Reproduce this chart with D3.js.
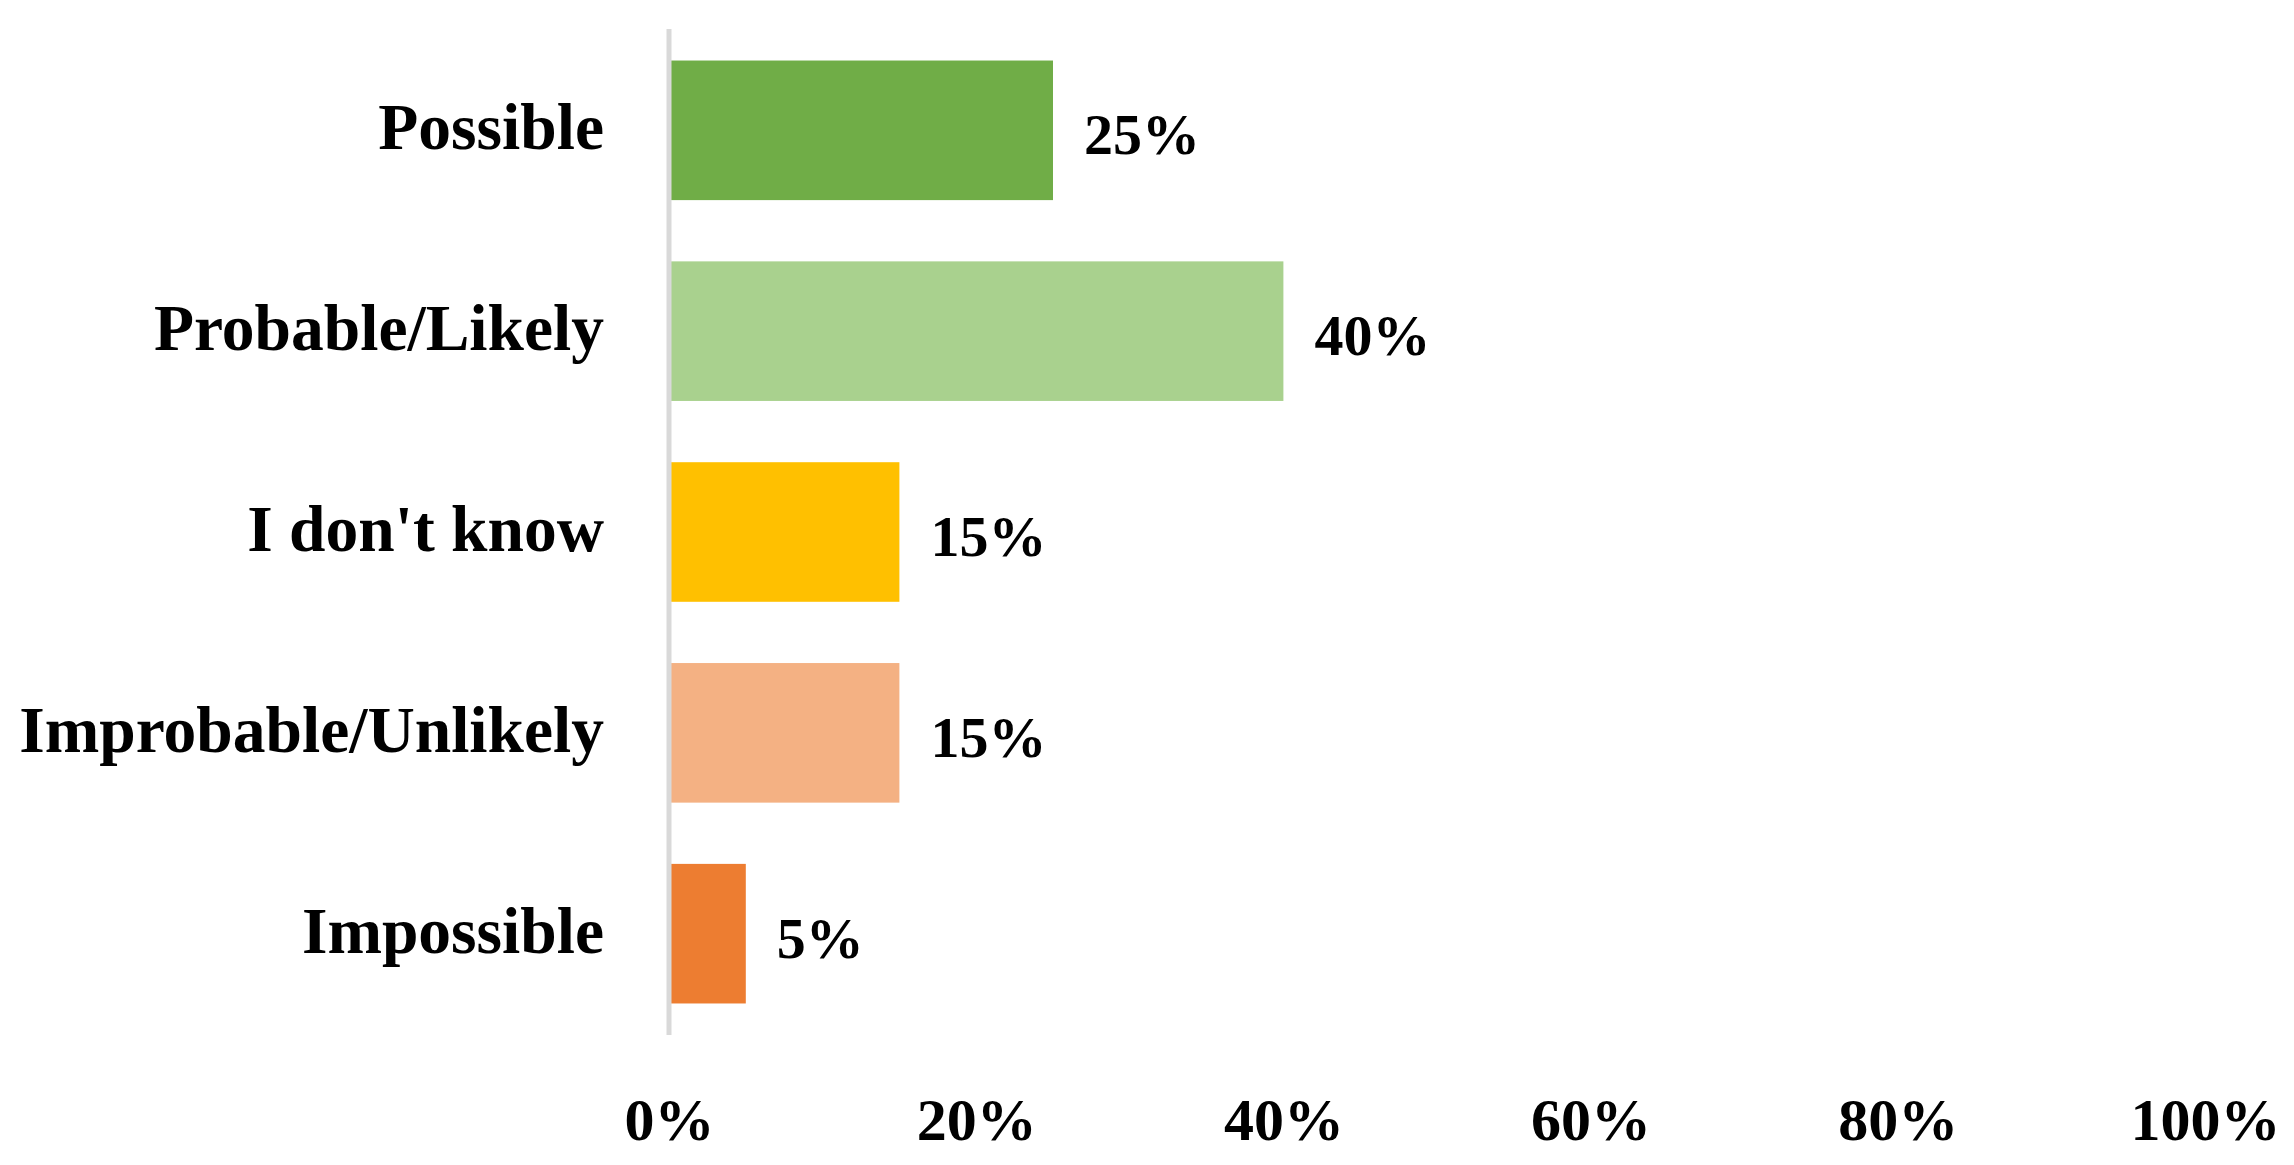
<!DOCTYPE html>
<html>
<head>
<meta charset="utf-8">
<script src="https://cdn.jsdelivr.net/npm/d3@7"></script>
<style>
  html, body { margin: 0; padding: 0; background: #fff; }
  svg { display: block; }
  text { font-family: "Liberation Serif", "Times New Roman", serif; font-weight: bold; fill: #000; }
</style>
</head>
<body>
<svg id="chart" width="2294" height="1165"></svg>
<script>
const categories = ["Possible", "Probable/Likely", "I don't know", "Improbable/Unlikely", "Impossible"];
const values = [25, 40, 15, 15, 5];
const colors = ["#70AD47", "#A9D18E", "#FFC000", "#F4B183", "#ED7D31"];
const tickValues = [0, 20, 40, 60, 80, 100];

const svg = d3.select("#chart");

const x = d3.scaleLinear().domain([0, 100]).range([669, 2205]);
const y = d3.scaleBand().domain(categories).range([30, 1034]).paddingInner(0.305).paddingOuter(0.152);

// bars
svg.append("g").selectAll("rect")
  .data(categories)
  .join("rect")
  .attr("x", x(0))
  .attr("y", d => y(d))
  .attr("width", (d, i) => x(values[i]) - x(0))
  .attr("height", y.bandwidth())
  .attr("fill", (d, i) => colors[i]);

// vertical axis line
svg.append("line")
  .attr("x1", x(0)).attr("x2", x(0))
  .attr("y1", 29).attr("y2", 1035)
  .attr("stroke", "#d9d9d9")
  .attr("stroke-width", 5);

// category labels
svg.append("g").selectAll("text")
  .data(categories)
  .join("text")
  .attr("x", 604)
  .attr("y", d => y(d) + y.bandwidth() / 2 + 19)
  .attr("text-anchor", "end")
  .attr("font-size", 65.5)
  .text(d => d);

// value labels
svg.append("g").selectAll("text")
  .data(categories)
  .join("text")
  .attr("x", (d, i) => x(values[i]) + 31)
  .attr("y", d => y(d) + y.bandwidth() / 2 + 24)
  .attr("font-size", 58)
  .text((d, i) => values[i] + "%");

// x axis tick labels
const xAxis = d3.axisBottom(x)
  .tickValues(tickValues)
  .tickFormat(d => d + "%")
  .tickSize(0)
  .tickPadding(0);
const gx = svg.append("g").attr("transform", "translate(0,1097)").call(xAxis);
gx.select(".domain").remove();
gx.selectAll("text")
  .attr("font-size", 60)
  .attr("dy", "0.72em")
  .attr("y", 0)
  .style("font-family", "'Liberation Serif', serif")
  .style("font-weight", "bold")
  .attr("fill", "#000");
</script>
</body>
</html>
